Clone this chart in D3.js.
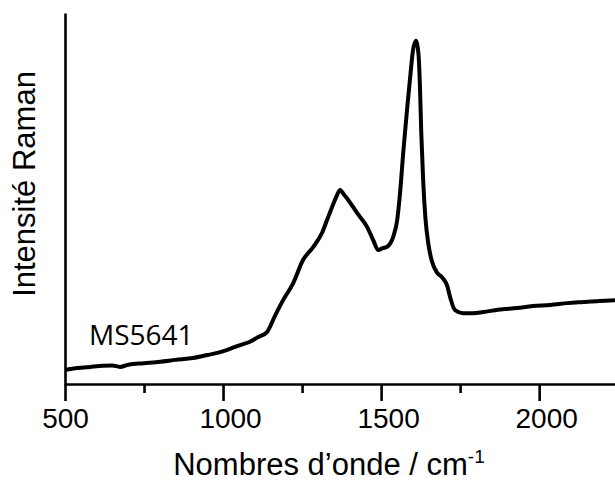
<!DOCTYPE html>
<html><head><meta charset="utf-8">
<script src="https://cdn.jsdelivr.net/npm/d3@7"></script>
<style>body{margin:0;background:#fff}svg{display:block}</style>
</head><body>
<script>
const wavenumbers = [500,540,579,620,650,674,700,750,801,850,905,950,991,1020,1054,1085,1110,1139,1165,1190,1222,1253,1285,1313,1329,1345,1360,1370,1383,1396,1424,1456,1475,1491,1505,1519,1538,1551,1560,1570,1582,1592,1601,1610,1618,1623,1627,1633,1640,1650,1661,1677,1690,1700,1709,1718,1734,1759,1790,1823,1870,1930,1980,2035,2090,2139,2190,2240];
const intensity   = [3.8,4.3,4.6,4.9,5.0,4.6,5.2,5.6,6.0,6.5,7.0,7.8,8.6,9.4,10.5,11.4,12.6,14.0,18.5,22.6,27.2,33.4,36.9,40.7,44.2,47.7,50.8,52.3,51.0,49.6,46.1,42.3,38.8,36.1,36.6,37.0,39.6,44.2,51.5,62.3,73.9,82.7,90.0,92.5,89.2,80.1,68.0,55.0,45.0,37.5,33.0,30.0,29.0,28.0,26.5,23.5,19.9,19.1,19.1,19.4,20.0,20.5,21.0,21.3,21.8,22.1,22.4,22.6];
const xTicksMajor = [500,1000,1500,2000];
const xTicksMinor = [750,1250,1750];
const xLabel = "Nombres d\u2019onde / cm";
const yLabel = "Intensité Raman";
const sampleLabel = "MS5641";

const W = 615, H = 485;
const svg = d3.select("body").append("svg").attr("width", W).attr("height", H);
const x = d3.scaleLinear().domain([500, 2240]).range([65, 615]);
const y = d3.scaleLinear().domain([0, 100]).range([384, 13]);

// curve
const line = d3.line().x((d,i)=>x(wavenumbers[i])).y((d,i)=>y(intensity[i])).curve(d3.curveMonotoneX);
svg.append("path").datum(intensity).attr("d", line)
  .attr("fill","none").attr("stroke","#000").attr("stroke-width",4).attr("stroke-linejoin","round");

// x axis
const xAxis = d3.axisBottom(x).tickValues(xTicksMajor).tickSize(17).tickSizeOuter(0).tickFormat(d3.format("d"));
const gx = svg.append("g").attr("transform","translate(0,384)").call(xAxis);
gx.select(".domain").attr("stroke","#000").attr("stroke-width",2.6);
gx.selectAll(".tick line").attr("stroke","#000").attr("stroke-width",2.6);
gx.selectAll(".tick text").attr("font-family","'Liberation Sans', Arial, sans-serif").attr("font-size",28).attr("fill","#000")
  .attr("y",24).attr("dy","0.71em").attr("dx", d => d >= 1000 ? 7 : 0);
const xMinor = d3.axisBottom(x).tickValues(xTicksMinor).tickSize(9).tickFormat("");
const gxm = svg.append("g").attr("transform","translate(0,384)").call(xMinor);
gxm.select(".domain").remove();
gxm.selectAll(".tick line").attr("stroke","#000").attr("stroke-width",2.6);

// y axis
const yAxis = d3.axisLeft(y).tickValues([]).tickSizeOuter(0);
const gy = svg.append("g").attr("transform","translate(65,0)").call(yAxis);
gy.select(".domain").attr("stroke","#000").attr("stroke-width",2.6);

// labels
const xl = svg.append("text").attr("x",329).attr("y",475).attr("text-anchor","middle")
  .attr("font-family","'Liberation Sans', Arial, sans-serif").attr("font-size",31).attr("fill","#000");
xl.append("tspan").text(xLabel);
xl.append("tspan").attr("font-size",19).attr("dy",-12).text("-1");

svg.append("text").attr("transform","translate(35,184) rotate(-90)").attr("text-anchor","middle")
  .attr("font-family","'Liberation Sans', Arial, sans-serif").attr("font-size",31).attr("fill","#000").text(yLabel);

svg.append("text").attr("x",89).attr("y",345).attr("font-family","'Open Sans', sans-serif")
  .attr("font-size",28).attr("fill","#000").text(sampleLabel);
</script>
</body></html>
